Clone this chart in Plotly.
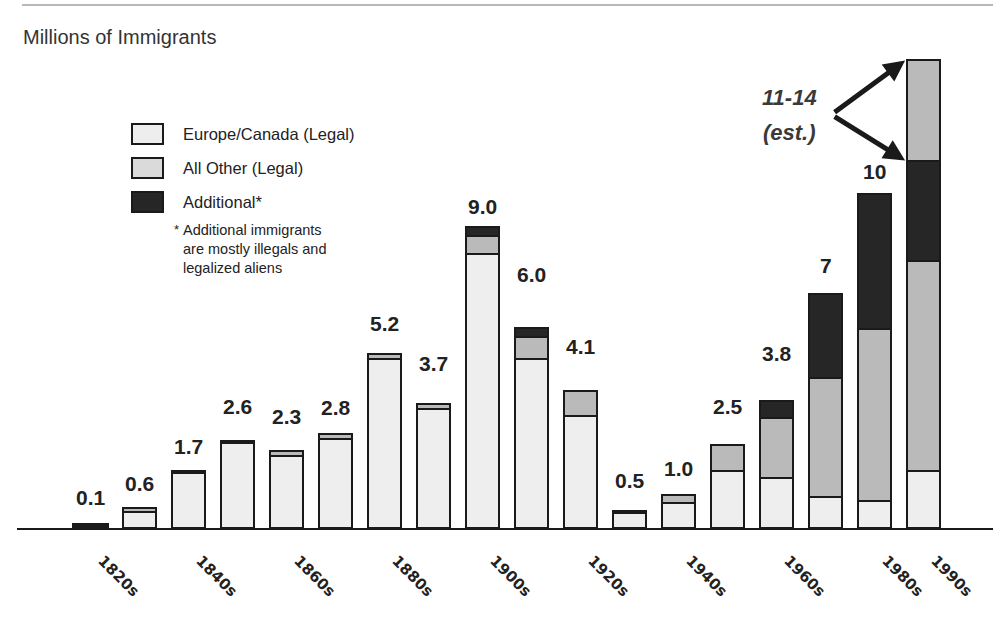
import plotly.graph_objects as go

# Decades (one bar each) and the subset of decades that get an axis label
decades = ["1820s", "1830s", "1840s", "1850s", "1860s", "1870s", "1880s", "1890s",
           "1900s", "1910s", "1920s", "1930s", "1940s", "1950s", "1960s", "1970s",
           "1980s", "1990s"]
labelled_decades = ["1820s", "1840s", "1860s", "1880s", "1900s", "1920s",
                    "1940s", "1960s", "1980s", "1990s"]

# Millions of immigrants per decade, by origin
europe_canada = [0.10, 0.47, 1.65, 2.55, 2.17, 2.65, 5.05, 3.55, 8.20, 5.05,
                 3.35, 0.45, 0.75, 1.70, 1.50, 0.93, 0.80, 1.70]
all_other = [0.00, 0.13, 0.05, 0.05, 0.13, 0.15, 0.15, 0.15, 0.55, 0.68,
             0.75, 0.05, 0.25, 0.80, 1.80, 3.55, 5.15, 6.30]
additional = [0.00, 0.00, 0.00, 0.00, 0.00, 0.00, 0.00, 0.00, 0.25, 0.27,
              0.00, 0.00, 0.00, 0.00, 0.50, 2.52, 4.05, 3.00]
# Upper end of the 1990s estimate (11 to 14 million)
estimate_upper = [0.0] * 17 + [3.00]

totals = [0.1, 0.6, 1.7, 2.6, 2.3, 2.8, 5.2, 3.7, 9.0, 6.0, 4.1, 0.5, 1.0, 2.5,
          3.8, 7, 10, 14]
total_labels = ["0.1", "0.6", "1.7", "2.6", "2.3", "2.8", "5.2", "3.7", "9.0",
                "6.0", "4.1", "0.5", "1.0", "2.5", "3.8", "7", "10", ""]
estimate_lines = ["11-14", "(est.)"]

# Vertical gap (px) between each bar top and its value label
label_lift = [27, 24, 25, 35, 35, 27, 31, 41, 21, 53, 45, 31, 26, 38, 48, 29, 23, 0]

C_EUROPE = "#eeeeee"
C_OTHER = "#bababa"
C_ADD = "#262626"
C_EDGE = "#1a1a1a"
FONT = "Liberation Sans, Arial, sans-serif"

W, H = 993, 638
ML, MR, MT, MB = 17, 0, 0, 110
PX_PER_UNIT = 33.4
plot_w = W - ML - MR
plot_h = H - MT - MB


def px(xp):
    return (xp - ML) / plot_w


def py(yp):
    return (H - MB - yp) / plot_h


xs = list(range(len(decades)))
bar_w = 0.67

# the very short 1820s bar reads as a solid dark sliver
europe_edge = [4 if v < 0.15 else 2 for v in europe_canada]

fig = go.Figure()
for name, vals, col, edge in [("Europe/Canada (Legal)", europe_canada, C_EUROPE, europe_edge),
                              ("All Other (Legal)", all_other, C_OTHER, 2),
                              ("Additional*", additional, C_ADD, 2),
                              ("Estimate range", estimate_upper, C_OTHER, 2)]:
    fig.add_trace(go.Bar(
        x=xs, y=vals, name=name, width=bar_w,
        marker=dict(color=col, line=dict(color=C_EDGE, width=edge)),
        showlegend=False, hoverinfo="skip",
    ))

annotations = []
# value labels above bars
for i, (t, lab, lift) in enumerate(zip(totals, total_labels, label_lift)):
    if not lab:
        continue
    annotations.append(dict(
        x=i, y=t, xref="x", yref="y", text=lab, showarrow=False,
        yanchor="middle", xanchor="center", yshift=lift,
        font=dict(family=FONT, size=21, color="#222222", weight="bold"),
    ))

# 1990s estimate text and arrows
last = len(decades) - 1
low_est = europe_canada[last] + all_other[last] + additional[last]
for line, yp in zip(estimate_lines, [98, 132]):
    annotations.append(dict(
        x=px(789), y=py(yp), xref="paper", yref="paper", text=line,
        showarrow=False, xanchor="center", yanchor="middle",
        font=dict(family=FONT, size=22, color="#3a3a3a", weight="bold",
                  style="italic"),
    ))
for ytarget, ay in [(totals[last], 53), (low_est, -45)]:
    annotations.append(dict(
        x=last - bar_w / 2 - 0.04, y=ytarget, xref="x", yref="y", text="",
        showarrow=True, arrowhead=2, arrowsize=0.85, arrowwidth=5,
        arrowcolor="#1a1a1a", ax=-72, ay=ay, axref="pixel", ayref="pixel",
        standoff=0,
    ))

# axis title
annotations.append(dict(
    x=px(21), y=py(37), xref="paper", yref="paper", text="Millions of Immigrants",
    showarrow=False, xanchor="left", yanchor="middle",
    font=dict(family=FONT, size=20, color="#333333"),
))

# legend (drawn by hand)
shapes = []
legend_rows = [("Europe/Canada (Legal)", "#eeeeee", 134),
               ("All Other (Legal)", "#dadada", 168),
               ("Additional*", C_ADD, 202)]
for text, col, yc in legend_rows:
    shapes.append(dict(type="rect", xref="paper", yref="paper",
                       x0=px(132), x1=px(163), y0=py(yc + 10), y1=py(yc - 10),
                       fillcolor=col, line=dict(color=C_EDGE, width=2)))
    annotations.append(dict(
        x=px(181), y=py(yc), xref="paper", yref="paper", text=text,
        showarrow=False, xanchor="left", yanchor="middle",
        font=dict(family=FONT, size=16.5, color="#222222"),
    ))

annotations.append(dict(
    x=px(172), y=py(229), xref="paper", yref="paper", text="*",
    showarrow=False, xanchor="left", yanchor="middle",
    font=dict(family=FONT, size=13, color="#222222"),
))
annotations.append(dict(
    x=px(181), y=py(249), xref="paper", yref="paper",
    text="Additional immigrants<br>are mostly illegals and<br>legalized aliens",
    showarrow=False, xanchor="left", yanchor="middle", align="left",
    font=dict(family=FONT, size=14.5, color="#222222"),
))

# thin rule along the top
shapes.append(dict(type="line", xref="paper", yref="paper",
                   x0=px(22), x1=1.0, y0=py(5), y1=py(5),
                   line=dict(color="#a0a0a0", width=1.5)))

x_left = -(90.5 - ML) / 49.0
x_right = x_left + plot_w / 49.0
tick_idx = [decades.index(d) for d in labelled_decades]

fig.update_layout(
    width=W, height=H,
    margin=dict(l=ML, r=MR, t=MT, b=MB, pad=0),
    paper_bgcolor="white", plot_bgcolor="white",
    barmode="stack", bargap=0.33,
    showlegend=False,
    xaxis=dict(range=[x_left, x_right], showgrid=False, zeroline=False,
               showline=True, linecolor="#1a1a1a", linewidth=2, ticks="",
               tickmode="array", tickvals=tick_idx, ticktext=labelled_decades,
               tickangle=45, ticklabelstandoff=16, ticklabelshift=12,
               tickfont=dict(family="DejaVu Sans, sans-serif", size=15,
                             color="#222222", weight="bold")),
    yaxis=dict(range=[0, plot_h / PX_PER_UNIT], visible=False, fixedrange=True),
    annotations=annotations,
    shapes=shapes,
)

fig.write_html("out.html")
